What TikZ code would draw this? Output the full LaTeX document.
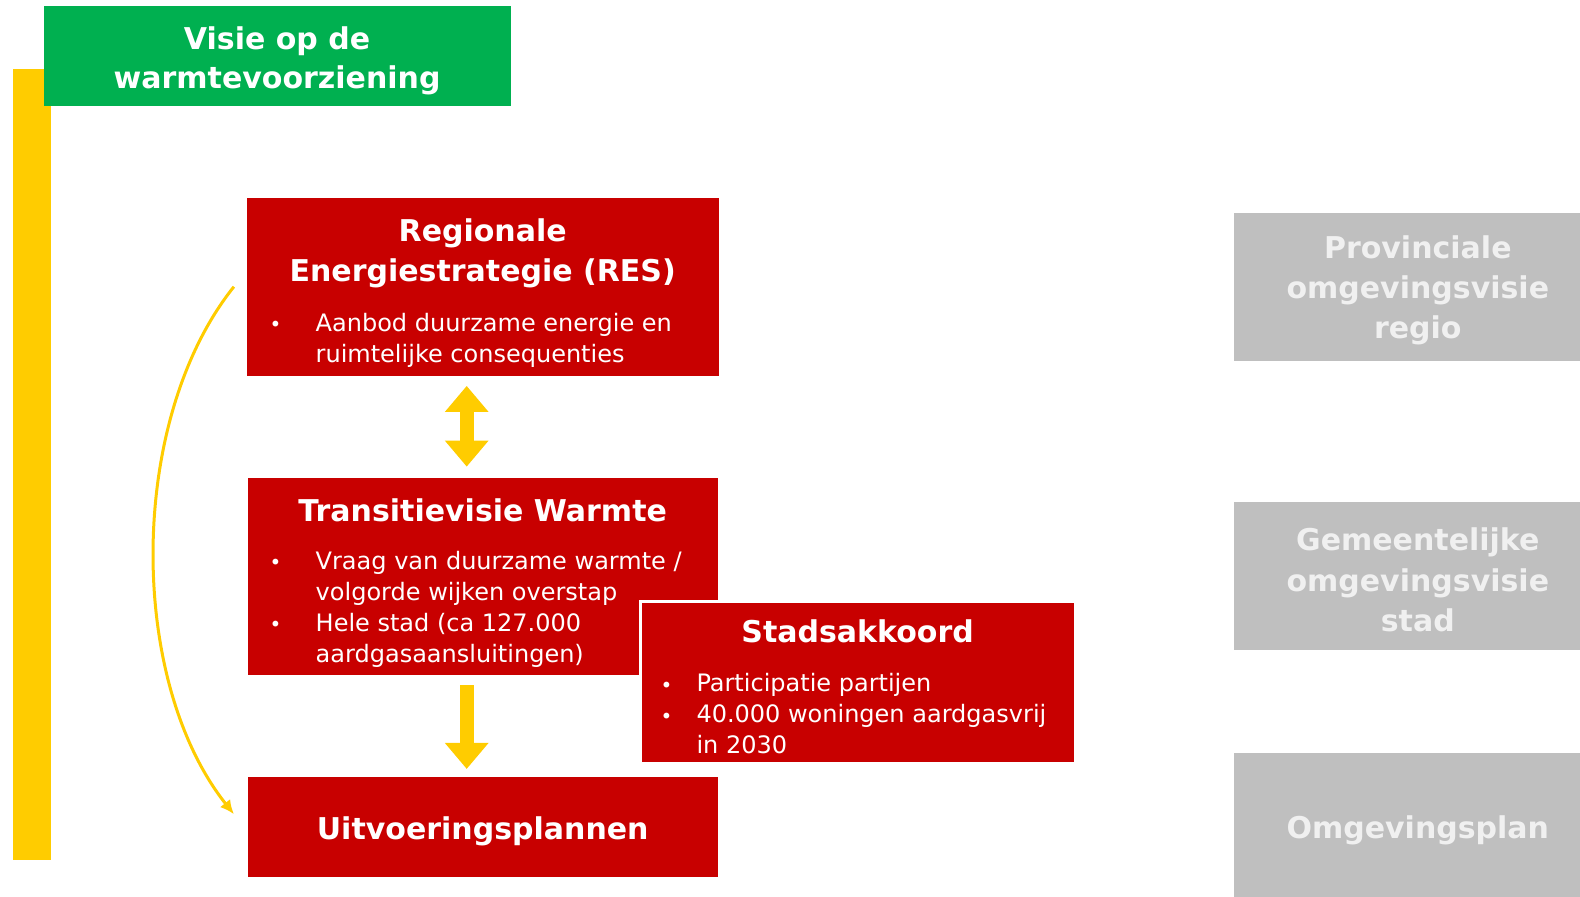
\documentclass[tikz,border=0pt]{standalone}
\usepackage{fontspec}
\setmainfont{DejaVu Sans}
\usetikzlibrary{arrows.meta,calc}
\definecolor{rood}{RGB}{200,0,0}
\definecolor{groen}{RGB}{0,176,80}
\definecolor{geel}{RGB}{255,204,0}
\definecolor{grijs}{RGB}{191,191,191}
\definecolor{lichtgrijs}{RGB}{240,240,240}
\newcommand{\bol}[1][46pt]{\makebox[#1][l]{\fontsize{20}{20}\selectfont\raisebox{-0.5pt}{•}}}
\newcommand{\inspr}[1][46pt]{\hspace*{#1}}

\begin{document}
\begin{tikzpicture}[x=1pt,y=-1pt,
  blok/.style={fill=rood,inner sep=0pt,outer sep=0pt},
  titel/.style={text=white,align=center,font=\fontsize{30}{39.3}\selectfont\bfseries},
  tekst/.style={text=white,align=left,anchor=west,inner sep=0pt,font=\fontsize{24}{31}\selectfont},
  vak/.style={fill=grijs,text=lichtgrijs,align=center,inner sep=0pt,outer sep=0pt,font=\fontsize{30}{40.3}\selectfont\bfseries},
  pijl/.style={draw=geel,line width=14pt,-{Triangle[width=42pt,length=26pt]}},
  boog/.style={draw=geel,line width=3pt,-{Latex[length=14pt,width=13pt]}}]

        \useasboundingbox (0,0) rectangle (1580,897);
        \fill[geel] (13.1,68.5) rectangle (51.4,859.6);

        \node[fill=groen,minimum width=466.6pt,minimum height=99.8pt,inner sep=0pt] (visie) at (277.6,55.9) {};
        \node[titel] (visietxt) at (277.1,60.5) {Visie op de\\warmtevoorziening};

        \node[blok,minimum width=471.6pt,minimum height=178.4pt] (res) at (482.7,286.7) {};
        \node[titel] (restitel) at (482.7,253.4) {Regionale\\Energiestrategie (RES)};
        \node[tekst] (resbul) at (269.5,340) {\bol Aanbod duurzame energie en\\\inspr ruimtelijke consequenties};

        \node[blok,minimum width=469.6pt,minimum height=197.5pt] (tvw) at (482.7,576.4) {};
        \node[titel] (tvwtitel) at (482.7,510.4) {Transitievisie Warmte};
        \node[tekst] (tvwbul) at (269.5,609.2) {\bol Vraag van duurzame warmte /\\\inspr volgorde wijken overstap\\\bol Hele stad (ca 127.000\\\inspr aardgasaansluitingen)};

        \node[blok,draw=white,line width=3pt,minimum width=434.3pt,minimum height=162.2pt] (stad) at (858,682.7) {};
        \node[titel] (stadtitel) at (857.6,631.3) {Stadsakkoord};
        \node[tekst] (stadbul) at (660.5,714) {\bol[35.8pt]Participatie partijen\\\bol[35.8pt]40.000 woningen aardgasvrij\\\inspr[35.8pt]in 2030};

        \node[blok,minimum width=469.6pt,minimum height=99.7pt] (uit) at (482.7,826.8) {};
        \node[titel] (uittitel) at (482.7,831.3) {Uitvoeringsplannen};

        \node[vak,minimum width=366.8pt,minimum height=148.2pt] (prov) at (1417.8,286.7) {};
        \node[vak,fill=none] (provtxt) at (1417.8,290.5) {Provinciale\\omgevingsvisie\\regio};
        \node[vak,minimum width=366.8pt,minimum height=148.2pt] (gem) at (1417.8,575.9) {};
        \node[vak,fill=none] (gemtxt) at (1417.8,580) {Gemeentelijke\\omgevingsvisie\\stad};
        \node[vak,minimum width=366.8pt,minimum height=151pt] (plan) at (1417.8,828.3) {};
        \node[vak,fill=none] (plantxt) at (1417.8,830.5) {Omgevingsplan};

        \draw[pijl,{Triangle[width=42pt,length=26pt]}-{Triangle[width=42pt,length=26pt]},shorten <=10pt,shorten >=11pt] ([xshift=-16pt]res.south) -- ([xshift=-16pt]tvw.north);
        \draw[pijl,shorten <=10pt,shorten >=8pt] ([xshift=-16pt]tvw.south) -- ([xshift=-16pt]uit.north);
        \draw[boog] ([xshift=-13pt]res.west) .. controls ($(res.west)+(-119.5,133.3)$) and ($(uit.west)+(-120.5,-146.8)$) .. ([xshift=-14pt,yshift=12.6pt]uit.west);
    \end{tikzpicture}
\end{document}
